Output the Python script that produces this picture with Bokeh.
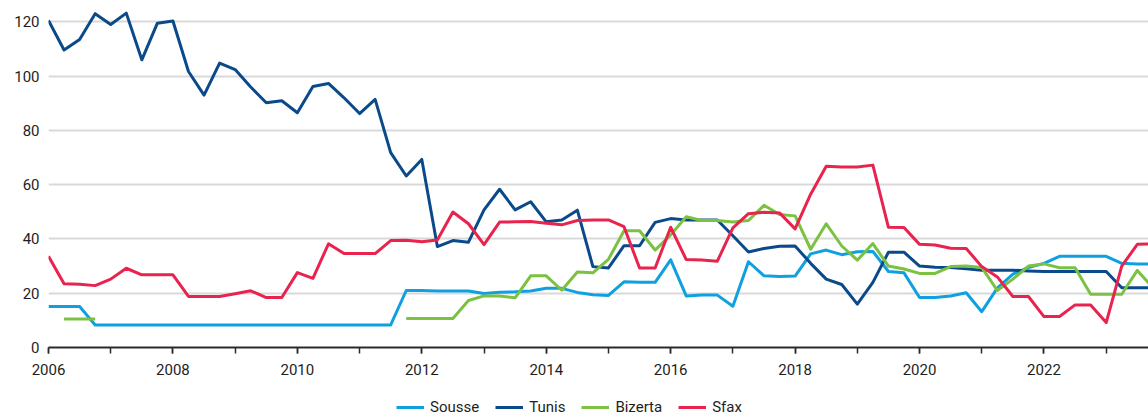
from bokeh.plotting import figure
from bokeh.layouts import column
from bokeh.models import Legend, LegendItem, SingleIntervalTicker, FixedTicker, Range1d
from bokeh.embed import file_html
from bokeh.resources import INLINE

nan = float("nan")

# Quarterly observations, first quarter 2006 onwards
start_year = 2006
n_quarters = 72

sousse = [15.1, 15.1, 15.1, 8.3, 8.3, 8.3, 8.3, 8.3, 8.3, 8.3, 8.3, 8.3,
          8.3, 8.3, 8.3, 8.3, 8.3, 8.3, 8.3, 8.3, 8.3, 8.3, 8.3, 21.0,
          21.0, 20.8, 20.8, 20.8, 19.9, 20.4, 20.5, 20.8, 21.8, 21.8, 20.3, 19.4,
          19.2, 24.2, 24.0, 24.0, 32.3, 19.0, 19.3, 19.3, 15.2, 31.6, 26.4, 26.2,
          26.3, 34.5, 35.9, 34.2, 35.3, 35.4, 28.0, 27.5, 18.4, 18.4, 19.0, 20.2,
          13.2, 21.9, 27.0, 29.5, 31.0, 33.6, 33.6, 33.6, 33.6, 31.0, 30.8, 30.8]

tunis = [120.5, 109.6, 113.5, 123.0, 119.0, 123.2, 106.0, 119.5, 120.3, 101.7, 93.0, 104.8,
         102.4, 96.0, 90.2, 90.9, 86.5, 96.2, 97.3, 92.0, 86.2, 91.4, 71.8, 63.2,
         69.3, 37.2, 39.4, 38.8, 50.7, 58.3, 50.7, 53.7, 46.3, 47.0, 50.6, 29.8,
         29.3, 37.5, 37.5, 46.1, 47.5, 47.0, 47.0, 47.0, 41.2, 35.2, 36.5, 37.3,
         37.4, 31.0, 25.2, 23.2, 16.0, 24.0, 35.1, 35.1, 30.0, 29.6, 29.5, 29.0,
         28.5, 28.5, 28.5, 28.2, 28.0, 28.0, 28.0, 28.0, 28.0, 22.0, 22.0, 22.0]

bizerta = [nan, 10.5, 10.5, 10.5, nan, nan, nan, nan, nan, nan, nan, nan,
           nan, nan, nan, nan, nan, nan, nan, nan, nan, nan, nan, 10.7,
           10.7, 10.7, 10.7, 17.3, 19.0, 19.0, 18.3, 26.4, 26.4, 21.1, 27.8, 27.5,
           32.5, 43.0, 43.0, 35.9, 41.5, 48.2, 46.8, 46.8, 46.2, 46.8, 52.4, 49.0,
           48.5, 36.2, 45.6, 37.4, 32.2, 38.3, 30.0, 28.9, 27.3, 27.3, 29.8, 30.0,
           29.5, 21.0, 25.2, 30.0, 30.8, 29.4, 29.4, 19.6, 19.6, 19.6, 28.4, 22.0]

sfax = [33.6, 23.5, 23.3, 22.8, 25.2, 29.2, 26.8, 26.8, 26.8, 18.8, 18.8, 18.8,
        19.8, 20.9, 18.4, 18.4, 27.6, 25.5, 38.2, 34.6, 34.6, 34.6, 39.4, 39.5,
        39.0, 39.6, 49.9, 45.6, 37.9, 46.2, 46.3, 46.4, 45.8, 45.2, 46.8, 47.0,
        47.0, 44.5, 29.3, 29.3, 44.3, 32.4, 32.2, 31.8, 44.1, 49.3, 49.8, 49.6,
        43.7, 56.5, 66.8, 66.5, 66.5, 67.2, 44.3, 44.2, 38.0, 37.8, 36.6, 36.5,
        29.8, 26.0, 18.8, 18.8, 11.4, 11.4, 15.7, 15.7, 9.2, 30.0, 38.0, 38.2]

series_names = ["Sousse", "Tunis", "Bizerta", "Sfax"]
series_values = [sousse, tunis, bizerta, sfax]
series_colors = ["#0fa0e0", "#0a4a8b", "#7bc142", "#e8244e"]

y_ticks = [0, 20, 40, 60, 80, 100, 120]
x_ticks_interval = 2

time = [start_year + i / 4 for i in range(n_quarters)]

FONT = "Roboto"
TEXT = "#1e1e1e"

# ---- main chart ----
p = figure(width=1148, height=385, output_backend="svg", toolbar_location=None,
           x_range=Range1d(2006, 2023.68), y_range=Range1d(0, 124.17),
           min_border_left=48, min_border_right=0, min_border_top=10,
           min_border_bottom=38)
p.outline_line_color = None
p.background_fill_color = "white"
p.border_fill_color = "white"

p.xgrid.grid_line_color = None
p.ygrid.grid_line_color = "#d9d9d9"
p.ygrid.grid_line_width = 2
p.ygrid.ticker = FixedTicker(ticks=y_ticks)

p.yaxis.ticker = FixedTicker(ticks=y_ticks)
p.yaxis.axis_line_color = None
p.yaxis.major_tick_line_color = None
p.yaxis.minor_tick_line_color = None
p.yaxis.major_tick_in = 0
p.yaxis.major_tick_out = 0
p.yaxis.minor_tick_in = 0
p.yaxis.minor_tick_out = 0
p.yaxis.major_label_standoff = 9
p.yaxis.major_label_text_font = FONT
p.yaxis.major_label_text_font_size = "15px"
p.yaxis.major_label_text_color = TEXT

p.xaxis.ticker = SingleIntervalTicker(interval=x_ticks_interval, num_minor_ticks=2)
p.xaxis.axis_line_color = "#2b2b2b"
p.xaxis.axis_line_width = 2
p.xaxis.major_tick_in = 0
p.xaxis.major_tick_out = 6
p.xaxis.minor_tick_in = 0
p.xaxis.minor_tick_out = 6
p.xaxis.major_tick_line_color = "#2b2b2b"
p.xaxis.minor_tick_line_color = "#2b2b2b"
p.xaxis.major_tick_line_width = 1.5
p.xaxis.minor_tick_line_width = 1.5
p.xaxis.major_label_standoff = 10
p.xaxis.major_label_text_font = FONT
p.xaxis.major_label_text_font_size = "15px"
p.xaxis.major_label_text_color = TEXT

for name, vals, col in zip(series_names, series_values, series_colors):
    p.line(time, vals, line_color=col, line_width=3, line_join="round")

# ---- legend strip (its lines lie outside its visible range) ----
q = figure(width=1148, height=31, output_backend="svg", toolbar_location=None,
           x_range=Range1d(0, 1), y_range=Range1d(0, 1),
           x_axis_type=None, y_axis_type=None,
           min_border_left=48, min_border_right=0, min_border_top=0,
           min_border_bottom=0)
q.outline_line_color = None
q.grid.grid_line_color = None
q.background_fill_color = "white"
q.border_fill_color = "white"

items = []
for name, vals, col in zip(series_names, series_values, series_colors):
    r = q.line(time, vals, line_color=col, line_width=3)
    items.append(LegendItem(label=name, renderers=[r]))

legend = Legend(items=items, orientation="horizontal", location=(348, 0),
                label_text_font=FONT, label_text_font_size="15px",
                label_text_color=TEXT, glyph_width=28, glyph_height=16,
                label_height=16, label_standoff=6, spacing=16, padding=1,
                margin=0, border_line_color=None, background_fill_alpha=0)
q.add_layout(legend, "center")

layout = column(p, q, spacing=0)
open("out.html", "w").write(file_html(layout, INLINE))
